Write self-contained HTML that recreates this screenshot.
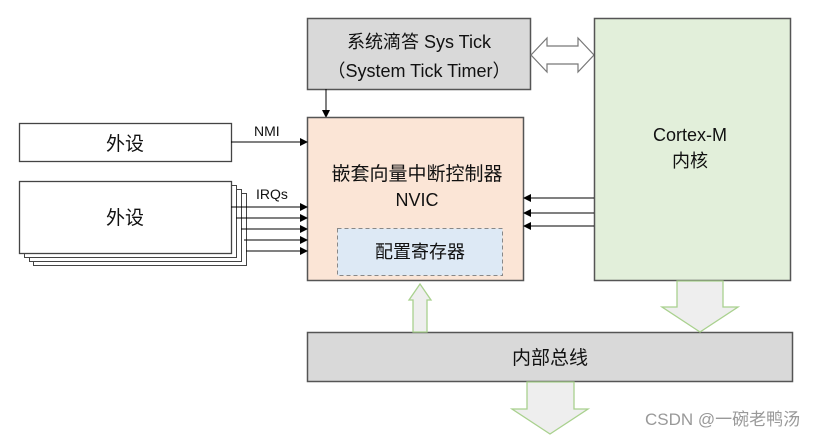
<!DOCTYPE html>
<html><head><meta charset="utf-8"><style>
body{margin:0;background:#fff;width:838px;height:438px;overflow:hidden}
svg text{font-family:"Liberation Sans","Noto Sans CJK SC",sans-serif;fill:#111}
</style></head><body>
<svg width="838" height="438" xmlns="http://www.w3.org/2000/svg">
<defs><marker id="a" markerWidth="8" markerHeight="8" refX="7" refY="4" orient="auto" markerUnits="userSpaceOnUse"><path d="M0,0 L8,4 L0,8z" fill="#000"/></marker></defs>
<rect x="307.5" y="18.5" width="223" height="71" fill="#d9d9d9" stroke="#555" stroke-width="1.5"/>
<text x="419" y="48" font-size="18" text-anchor="middle">系统滴答 Sys Tick</text>
<text x="419" y="77" font-size="18" text-anchor="middle">（System Tick Timer）</text>
<line x1="326" y1="89" x2="326" y2="117" stroke="#000" marker-end="url(#a)"/>
<path d="M531,55 L547,38 L547,46 L578,46 L578,38 L594,55 L578,72 L578,64 L547,64 L547,72 Z" fill="#fff" stroke="#777" stroke-width="1.2"/>
<rect x="594.5" y="18.5" width="196" height="262" fill="#e2efda" stroke="#555" stroke-width="1.5"/>
<text x="690" y="141" font-size="18" text-anchor="middle">Cortex-M</text>
<text x="690" y="167" font-size="18" text-anchor="middle">内核</text>
<rect x="307.5" y="117.5" width="216" height="163" fill="#fbe5d6" stroke="#555" stroke-width="1.5"/>
<text x="417" y="180" font-size="19" text-anchor="middle">嵌套向量中断控制器</text>
<text x="417" y="206" font-size="18" text-anchor="middle">NVIC</text>
<rect x="337.5" y="228.5" width="165" height="47" fill="#dde9f5" stroke="#888" stroke-dasharray="4,3"/>
<text x="420" y="258" font-size="18" text-anchor="middle">配置寄存器</text>
<line x1="594" y1="198" x2="524" y2="198" stroke="#000" marker-end="url(#a)"/>
<line x1="594" y1="213" x2="524" y2="213" stroke="#000" marker-end="url(#a)"/>
<line x1="594" y1="226" x2="524" y2="226" stroke="#000" marker-end="url(#a)"/>
<rect x="19.5" y="123.5" width="212" height="38" fill="#fff" stroke="#444" stroke-width="1.3"/>
<text x="125" y="150" font-size="19" text-anchor="middle">外设</text>
<line x1="231" y1="142" x2="307" y2="142" stroke="#000" marker-end="url(#a)"/>
<text x="254" y="136" font-size="14">NMI</text>
<rect x="33.5" y="193.5" width="213" height="72" fill="#fff" stroke="#444"/>
<rect x="29.5" y="189.5" width="212" height="72" fill="#fff" stroke="#444"/>
<rect x="24.5" y="185.5" width="212" height="72" fill="#fff" stroke="#444"/>
<rect x="19.5" y="181.5" width="212" height="72" fill="#fff" stroke="#444" stroke-width="1.3"/>
<text x="125" y="224" font-size="19" text-anchor="middle">外设</text>
<text x="256" y="199" font-size="14">IRQs</text>
<line x1="231" y1="207" x2="307" y2="207" stroke="#000" marker-end="url(#a)"/>
<line x1="236" y1="218" x2="307" y2="218" stroke="#000" marker-end="url(#a)"/>
<line x1="241" y1="229" x2="307" y2="229" stroke="#000" marker-end="url(#a)"/>
<line x1="244" y1="240" x2="307" y2="240" stroke="#000" marker-end="url(#a)"/>
<line x1="246" y1="251" x2="307" y2="251" stroke="#000" marker-end="url(#a)"/>
<rect x="307.5" y="332.5" width="485" height="49" fill="#d9d9d9" stroke="#555" stroke-width="1.5"/>
<text x="550" y="364" font-size="19" text-anchor="middle">内部总线</text>
<path d="M413,332 L413,300 L409,300 L420,284 L431,300 L427,300 L427,332 Z" fill="#eee" stroke="#a9d18e" stroke-width="1.3"/>
<path d="M677,281 L723,281 L723,307 L738,307 L700,332 L662,307 L677,307 Z" fill="#eee" stroke="#a9d18e" stroke-width="1.3"/>
<path d="M527,382 L574,382 L574,409 L588,409 L550,434 L512,409 L527,409 Z" fill="#eee" stroke="#a9d18e" stroke-width="1.3"/>
<text x="645" y="425" font-size="17" style="fill:#999">CSDN @一碗老鸭汤</text>
</svg>
</body></html>
